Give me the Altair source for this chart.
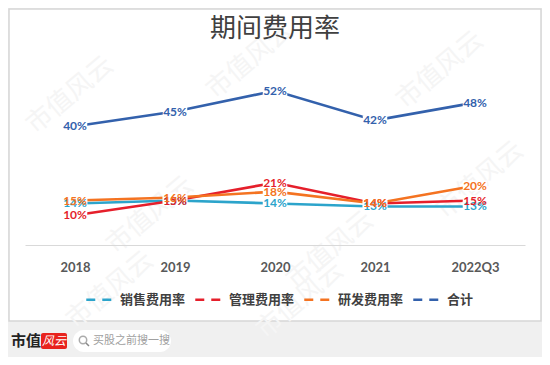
import altair as alt
import pandas as pd

years = ["2018", "2019", "2020", "2021", "2022Q3"]
series = ["销售费用率", "管理费用率", "研发费用率", "合计"]
colors = ["#2CA4CB", "#E51F2B", "#F47321", "#3361AC"]
sales = [14, 15, 14, 13, 13]
admin = [10, 15, 21, 14, 15]
rnd = [15, 16, 18, 14, 20]
total = [40, 45, 52, 42, 48]

rows = []
for name, col, vals in zip(series, colors, [sales, admin, rnd, total]):
    for y, v in zip(years, vals):
        rows.append({"year": y, "series": name, "value": v, "label": f"{v}%", "hex": col})
df = pd.DataFrame(rows)
one = pd.DataFrame({"a": [0]})

W, H = 500, 178
NUM_FONT = "Lato"
CJK = "Noto Sans CJK SC"

# page -> plot coordinates
def px(x):
    return x - 25
def py(y):
    return y - 67

base = alt.Chart(df)
xenc = alt.X("year:O", sort=years, scale=alt.Scale(padding=0.5),
             axis=alt.Axis(title=None, labelAngle=0, ticks=False, domainColor="#d9d9d9",
                           domainWidth=1.2, labelFont=NUM_FONT, labelFontSize=13,
                           labelFontWeight="bold", labelColor="#595959", labelPadding=16,
                           zindex=1))
yenc = alt.Y("value:Q", scale=alt.Scale(domain=[0, 60]), axis=None)

panel = alt.Chart(one).mark_rect(fill="white", stroke="#d6d6d6", strokeWidth=1.5, clip=False).encode(
    x=alt.value(px(9)), x2=alt.value(px(541)), y=alt.value(py(9)), y2=alt.value(py(321)))

wm_pos = [(70, 95), (250, 60), (440, 70), (150, 215), (330, 250), (480, 180), (110, 290), (300, 300)]
watermarks = [
    alt.Chart(one).mark_text(text="市值风云", font=CJK, fontSize=26, angle=320, color="#f5f5f5").encode(
        x=alt.value(px(a)), y=alt.value(py(b)))
    for a, b in wm_pos
]

lines = base.mark_line(strokeWidth=2.6).encode(
    x=xenc, y=yenc,
    color=alt.Color("series:N", sort=series,
                    scale=alt.Scale(domain=series, range=colors),
                    legend=alt.Legend(orient="none", legendX=60, legendY=218, direction="horizontal",
                                      title=None, symbolType="stroke", symbolDash=[9, 7],
                                      symbolStrokeWidth=2.5, symbolSize=700, labelFont=CJK,
                                      labelFontSize=13, labelFontWeight="bold", labelColor="#404040",
                                      columnPadding=4, labelOffset=6)))

boxes = base.mark_point(shape="M-1,-0.42H1V0.42H-1Z", filled=True, fill="white", opacity=1,
                        strokeWidth=0, size=600).encode(x=xenc, y=yenc)

labels = base.mark_text(font=NUM_FONT, fontSize=12, fontWeight="bold", baseline="middle").encode(
    x=xenc, y=yenc, text="label:N", color=alt.Color("hex:N", scale=None))

title = alt.Chart(one).mark_text(text="期间费用率", font=CJK, fontSize=26, color="#404040",
                                 baseline="middle").encode(x=alt.value(px(275)), y=alt.value(py(29)))

logo1 = alt.Chart(one).mark_text(text="市值", font=CJK, fontSize=15, fontWeight="bold", color="#222222",
                                 align="left", baseline="middle").encode(x=alt.value(px(11)), y=alt.value(py(341)))
logo_box = alt.Chart(one).mark_rect(fill="#E8231E", cornerRadius=2).encode(
    x=alt.value(px(41)), x2=alt.value(px(67)), y=alt.value(py(333)), y2=alt.value(py(349)))
logo2 = alt.Chart(one).mark_text(text="风云", font=CJK, fontSize=12, fontStyle="italic", color="white",
                                 baseline="middle").encode(x=alt.value(px(54)), y=alt.value(py(341)))
pill = alt.Chart(one).mark_rect(fill="white", cornerRadius=11).encode(
    x=alt.value(px(73)), x2=alt.value(px(171)), y=alt.value(py(330)), y2=alt.value(py(352)))
glass = alt.Chart(one).mark_point(shape="circle", size=55, stroke="#888888", strokeWidth=1.5, filled=False).encode(
    x=alt.value(px(83)), y=alt.value(py(340)))
glass_h = alt.Chart(one).mark_rule(stroke="#888888", strokeWidth=1.5).encode(
    x=alt.value(px(86)), x2=alt.value(px(89)), y=alt.value(py(343)), y2=alt.value(py(346)))
search = alt.Chart(one).mark_text(text="买股之前搜一搜", font=CJK, fontSize=11, color="#a0a0a0",
                                  align="left", baseline="middle").encode(x=alt.value(px(93)), y=alt.value(py(341)))

chart = alt.layer(panel, *watermarks, lines, boxes, labels, title,
                  logo1, logo_box, logo2, pill, glass, glass_h, search).properties(
    width=W, height=H, background="#f0f0f0",
    padding={"left": 17, "top": 59, "right": 17, "bottom": 112},
    autosize=alt.AutoSizeParams(type="none"),
).configure_view(stroke=None)

chart.save("out.html", embed_options={"renderer": "svg", "actions": False})
